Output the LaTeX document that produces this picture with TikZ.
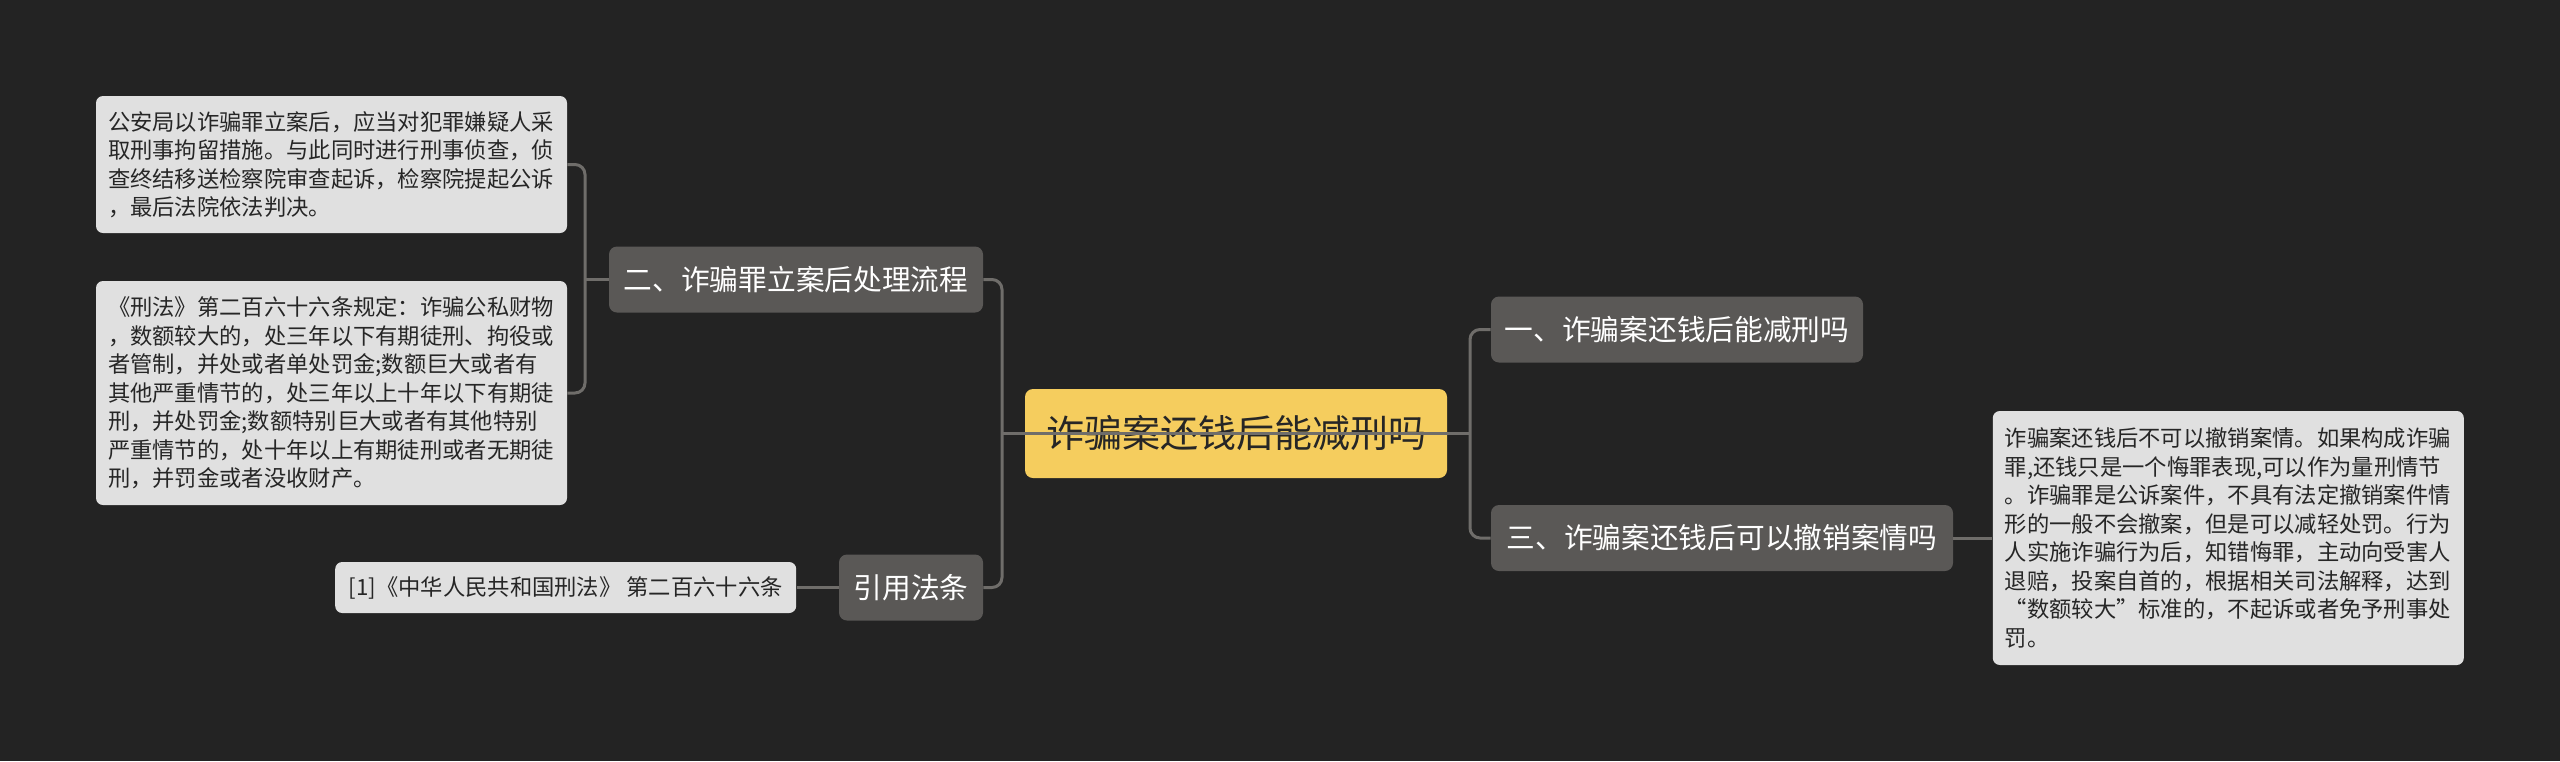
\documentclass[tikz,border=0pt]{standalone}
\usepackage{fontspec}
\setmainfont{Noto Sans CJK SC}
\usepackage{xcolor}
\usetikzlibrary{positioning}

\definecolor{bgdark}{HTML}{232323}
\definecolor{topicgray}{HTML}{5A5856}
\definecolor{notegray}{HTML}{E0E0E0}
\definecolor{rootyellow}{HTML}{F5CD5E}
\definecolor{linegray}{HTML}{6F6D6A}

\begin{document}
\begin{tikzpicture}[
    x=0.5pt, y=-0.5pt,
    node distance=21pt and 21pt,
    root/.style={fill=rootyellow, rounded corners=4pt, text=black!85, align=center, minimum width=211pt, minimum height=44.5pt, font=\fontsize{19pt}{22pt}\selectfont},
    topic/.style={fill=topicgray, rounded corners=4pt, text=white, align=center, minimum height=33pt, inner xsep=6pt, font=\fontsize{14.35pt}{17pt}\selectfont},
    note/.style={fill=notegray, rounded corners=3.5pt, text=black!85, align=left, text width=223.5pt, inner xsep=6pt, inner ysep=6pt, font=\fontsize{11.15pt}{14.25pt}\selectfont},
    line/.style={draw=linegray, line width=1.5pt, rounded corners=5pt}
]
\fill[bgdark] (0,0) rectangle (2560,761);

\node[root] (root) at (1236,433.5) {诈骗案还钱后能减刑吗};
\node[topic, minimum width=187pt] (procedure) at (796,279.5) {二、诈骗罪立案后处理流程};
\node[topic, minimum width=72pt] (cite) at (911,587.5) {引用法条};
\node[topic, minimum width=186pt] (reduce) at (1677,329.5) {一、诈骗案还钱后能减刑吗};
\node[topic, minimum width=231pt] (revoke) at (1722,538) {三、诈骗案还钱后可以撤销案情吗};

\node[note, minimum height=68.5pt] (police) at (331.5,164.5) {公安局以诈骗罪立案后，应当对犯罪嫌疑人采\\取刑事拘留措施。与此同时进行刑事侦查，侦\\查终结移送检察院审查起诉，检察院提起公诉\\，最后法院依法判决。};
\node[note, minimum height=112pt] (article) at (331.5,393) {《刑法》第二百六十六条规定：诈骗公私财物\\，数额较大的，处三年以下有期徒刑、拘役或\\者管制，并处或者单处罚金;数额巨大或者有\\其他严重情节的，处三年以上十年以下有期徒\\刑，并处罚金;数额特别巨大或者有其他特别\\严重情节的，处十年以上有期徒刑或者无期徒\\刑，并罚金或者没收财产。};
\node[note, text width=, align=center, minimum width=230.5pt, minimum height=25.5pt, left=21pt of cite] (lawref) {[1]《中华人民共和国刑法》 第二百六十六条};
\node[note, minimum height=127pt, right=19.5pt of revoke] (answer) {诈骗案还钱后不可以撤销案情。如果构成诈骗\\罪,还钱只是一个悔罪表现,可以作为量刑情节\\。诈骗罪是公诉案件，不具有法定撤销案件情\\形的一般不会撤案，但是可以减轻处罚。行为\\人实施诈骗行为后，知错悔罪，主动向受害人\\退赔，投案自首的，根据相关司法解释，达到\\“数额较大”标准的，不起诉或者免予刑事处\\罚。};

\coordinate (lspine) at (1002,433.5);
\coordinate (rspine) at (1470,433.5);
\coordinate (lbrace) at (585,279.5);

\draw[line] (procedure.east) -| (lspine) |- (cite.east);
\draw[line] (lspine) -- (rspine);
\draw[line] (reduce.west) -| (rspine) |- (revoke.west);
\draw[line] (revoke.east) -- (answer.west);
\draw[line] (cite.west) -- (lawref.east);
\draw[line] (police.east) -| (lbrace) |- (article.east);
\draw[line] (lbrace) -- (procedure.west);
\end{tikzpicture}
\end{document}
